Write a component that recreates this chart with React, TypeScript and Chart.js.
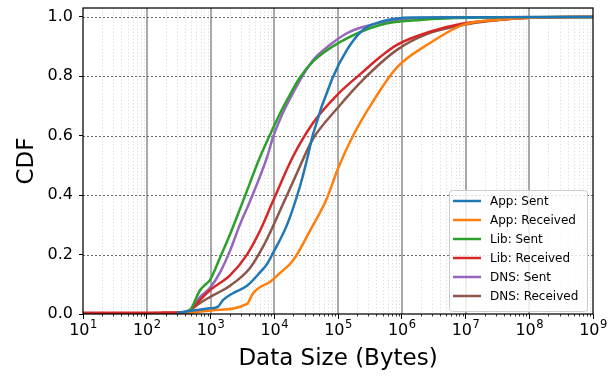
import { useEffect, useRef } from 'react';
import { Chart, registerables } from 'chart.js';

Chart.register(...registerables);

const FONT = '"DejaVu Sans", "Liberation Sans", sans-serif';

const seriesLabels = ['App: Sent', 'App: Received', 'Lib: Sent', 'Lib: Received', 'DNS: Sent', 'DNS: Received'];
const seriesColors = ['#1f77b4', '#ff7f0e', '#2ca02c', '#d62728', '#9467bd', '#8c564b'];

// Data size in bytes (x) and cumulative fraction (y)
const appSentX = [300, 479, 977, 1312, 1570, 2254, 3741, 5976, 7690, 9550, 15850, 25350, 32650, 40550, 80500, 138000, 246000, 456000, 1500000, 1e9];
const appSentY = [0.004, 0.01, 0.019, 0.025, 0.047, 0.07, 0.095, 0.14, 0.168, 0.205, 0.3, 0.43, 0.52, 0.605, 0.79, 0.889, 0.956, 0.983, 0.998, 1.0];

const appRecvX = [300, 479, 1096, 3741, 4645, 5976, 8570, 12300, 19700, 36300, 67100, 100000, 172000, 341000, 841000, 2770000, 9100000, 31000000, 102000000, 1e9];
const appRecvY = [0.002, 0.004, 0.013, 0.034, 0.07, 0.09, 0.108, 0.138, 0.18, 0.28, 0.39, 0.49, 0.6, 0.71, 0.83, 0.912, 0.973, 0.99, 0.997, 1.0];

const libSentX = [300, 398, 479, 684, 820, 977, 1413, 2042, 3236, 6026, 9550, 12300, 15850, 25100, 40700, 107000, 457000, 1950000, 17000000, 1e9];
const libSentY = [0.003, 0.005, 0.013, 0.08, 0.098, 0.114, 0.19, 0.27, 0.38, 0.53, 0.625, 0.675, 0.72, 0.795, 0.85, 0.915, 0.973, 0.99, 0.998, 1.0];

const libRecvX = [10, 398, 479, 684, 977, 2023, 3741, 5976, 9550, 19700, 40550, 100000, 246000, 457000, 841000, 2770000, 9100000, 31000000, 102000000, 1e9];
const libRecvY = [0.004, 0.006, 0.013, 0.047, 0.08, 0.13, 0.2, 0.28, 0.38, 0.53, 0.643, 0.74, 0.815, 0.865, 0.906, 0.95, 0.978, 0.99, 0.997, 1.0];

const dnsSentX = [300, 479, 684, 977, 1413, 2042, 2884, 4169, 7762, 9550, 12300, 15850, 25100, 40700, 75000, 138000, 245000, 841000, 5800000, 1e9];
const dnsSentY = [0.004, 0.013, 0.057, 0.087, 0.14, 0.215, 0.3, 0.38, 0.53, 0.595, 0.655, 0.705, 0.785, 0.855, 0.906, 0.945, 0.966, 0.99, 0.998, 1.0];

const dnsRecvX = [170, 398, 479, 684, 977, 2023, 4169, 6607, 9550, 13700, 19700, 32650, 40550, 100000, 246000, 841000, 2770000, 9100000, 102000000, 1e9];
const dnsRecvY = [0.004, 0.006, 0.013, 0.037, 0.057, 0.095, 0.155, 0.225, 0.295, 0.37, 0.445, 0.55, 0.59, 0.695, 0.788, 0.889, 0.946, 0.973, 0.997, 1.0];

const seriesX = [appSentX, appRecvX, libSentX, libRecvX, dnsSentX, dnsRecvX];
const seriesY = [appSentY, appRecvY, libSentY, libRecvY, dnsSentY, dnsRecvY];

const xDecades = [1e1, 1e2, 1e3, 1e4, 1e5, 1e6, 1e7, 1e8, 1e9];
const xExponents = ['1', '2', '3', '4', '5', '6', '7', '8', '9'];
const yTicks = [0, 0.2, 0.4, 0.6, 0.8, 1.0];

const xTitle = 'Data Size (Bytes)';
const yTitle = 'CDF';

const mplPlugin = {
  id: 'mplStyle',
  beforeDatasetsDraw(chart: any) {
    const { ctx, chartArea: a, scales } = chart;
    const x = scales.x;
    const y = scales.y;
    ctx.save();
    // minor vertical grid
    ctx.strokeStyle = '#d3d3d3';
    ctx.lineWidth = 0.8;
    ctx.setLineDash([1.2, 2.2]);
    for (let d = 1; d < 9; d++) {
      for (let k = 2; k <= 9; k++) {
        const px = Math.round(x.getPixelForValue(k * Math.pow(10, d))) + 0.5;
        ctx.beginPath();
        ctx.moveTo(px, a.top);
        ctx.lineTo(px, a.bottom);
        ctx.stroke();
      }
    }
    // major vertical grid
    ctx.setLineDash([]);
    ctx.strokeStyle = '#8c8c8c';
    ctx.lineWidth = 1.5;
    for (let i = 1; i < xDecades.length - 1; i++) {
      const px = Math.round(x.getPixelForValue(xDecades[i]));
      ctx.beginPath();
      ctx.moveTo(px, a.top);
      ctx.lineTo(px, a.bottom);
      ctx.stroke();
    }
    // horizontal grid
    ctx.setLineDash([2, 2]);
    ctx.strokeStyle = '#6a6a6a';
    ctx.lineWidth = 1;
    for (let i = 1; i < yTicks.length; i++) {
      const py = Math.round(y.getPixelForValue(yTicks[i])) + 0.5;
      ctx.beginPath();
      ctx.moveTo(a.left, py);
      ctx.lineTo(a.right, py);
      ctx.stroke();
    }
    ctx.restore();
  },
  afterDraw(chart: any) {
    const { ctx, chartArea: a, scales } = chart;
    const x = scales.x;
    ctx.save();
    // frame
    ctx.strokeStyle = '#000';
    ctx.lineWidth = 1.25;
    ctx.setLineDash([]);
    ctx.strokeRect(a.left, a.top, a.right - a.left, a.bottom - a.top);
    // minor ticks
    ctx.lineWidth = 0.8;
    for (let d = 1; d < 9; d++) {
      for (let k = 2; k <= 9; k++) {
        const px = Math.round(x.getPixelForValue(k * Math.pow(10, d))) + 0.5;
        ctx.beginPath();
        ctx.moveTo(px, a.bottom);
        ctx.lineTo(px, a.bottom + 2.5);
        ctx.stroke();
      }
    }
    // x tick labels: 10^n
    ctx.fillStyle = '#000';
    ctx.textBaseline = 'alphabetic';
    ctx.textAlign = 'left';
    const big = `16px ${FONT}`;
    const small = `11.5px ${FONT}`;
    const baseY = a.bottom + 21;
    for (let i = 0; i < xDecades.length; i++) {
      const px = x.getPixelForValue(xDecades[i]);
      ctx.font = big;
      const wB = ctx.measureText('10').width;
      ctx.font = small;
      const wE = ctx.measureText(xExponents[i]).width;
      const start = px - (wB + wE) / 2;
      ctx.font = big;
      ctx.fillText('10', start, baseY);
      ctx.font = small;
      ctx.fillText(xExponents[i], start + wB + 0.5, baseY - 7.5);
    }
    // legend
    const lx = 449, ly = 190, lw = 138, lh = 121;
    ctx.beginPath();
    if ((ctx as any).roundRect) (ctx as any).roundRect(lx + 0.5, ly + 0.5, lw, lh, 3);
    else ctx.rect(lx + 0.5, ly + 0.5, lw, lh);
    ctx.fillStyle = 'rgba(255,255,255,0.8)';
    ctx.fill();
    ctx.strokeStyle = '#cccccc';
    ctx.lineWidth = 1;
    ctx.stroke();
    ctx.font = `12px ${FONT}`;
    ctx.textBaseline = 'middle';
    chart.data.datasets.forEach((ds: any, i: number) => {
      const yy = ly + 11 + i * 19;
      ctx.strokeStyle = ds.borderColor;
      ctx.lineWidth = 2.5;
      ctx.beginPath();
      ctx.moveTo(lx + 4, yy);
      ctx.lineTo(lx + 32, yy);
      ctx.stroke();
      ctx.fillStyle = '#000';
      ctx.fillText(ds.label, lx + 41, yy + 0.5);
    });
    ctx.restore();
  },
};

export default function App() {
  const ref = useRef<HTMLCanvasElement>(null);
  useEffect(() => {
    if (!ref.current) return;
    const datasets = seriesLabels.map((label, i) => ({
      label,
      data: seriesX[i].map((xv, j) => ({ x: xv, y: seriesY[i][j] })),
      borderColor: seriesColors[i],
      backgroundColor: seriesColors[i],
      borderWidth: 2.5,
      pointRadius: 0,
      cubicInterpolationMode: 'monotone',
      fill: false,
    }));
    const chart = new Chart(ref.current, {
      type: 'line',
      data: { datasets },
      plugins: [mplPlugin],
      options: {
        animation: false,
        responsive: false,
        devicePixelRatio: 1,
        layout: { padding: { top: 8, right: 23, left: 0, bottom: 0 } },
        plugins: { legend: { display: false }, tooltip: { enabled: false } },
        scales: {
          x: {
            type: 'logarithmic',
            min: 10,
            max: 1e9,
            afterBuildTicks: (s: any) => {
              s.ticks = xDecades.map((v) => ({ value: v }));
            },
            afterFit: (s: any) => {
              s.height = 64;
              s.paddingLeft = 0;
              s.paddingRight = 0;
            },
            ticks: { display: false },
            grid: { display: true, drawOnChartArea: false, drawTicks: true, tickLength: 5, color: '#000', lineWidth: 1 },
            border: { display: false },
            title: {
              display: true,
              text: xTitle,
              color: '#000',
              font: { family: FONT, size: 23 },
              padding: { top: 0, bottom: 5 },
            },
          },
          y: {
            type: 'linear',
            min: 0,
            max: 1.03,
            afterBuildTicks: (s: any) => {
              s.ticks = yTicks.map((v) => ({ value: v }));
            },
            afterFit: (s: any) => {
              s.width = 83;
              s.paddingTop = 0;
              s.paddingBottom = 0;
            },
            ticks: {
              color: '#000',
              font: { family: FONT, size: 16 },
              padding: 6,
              callback: (v: any) => Number(v).toFixed(1),
            },
            grid: { display: true, drawOnChartArea: false, drawTicks: true, tickLength: 4, color: '#000', lineWidth: 1 },
            border: { display: false },
            title: {
              display: true,
              text: yTitle,
              color: '#000',
              font: { family: FONT, size: 23 },
              padding: { top: 13, bottom: 0 },
            },
          },
        },
      } as any,
    });
    return () => chart.destroy();
  }, []);
  return (
    <div style={{ position: 'fixed', left: 0, top: 0, width: 616, height: 378, background: '#fff' }}>
      <canvas ref={ref} width={616} height={378} style={{ display: 'block' }} />
    </div>
  );
}
